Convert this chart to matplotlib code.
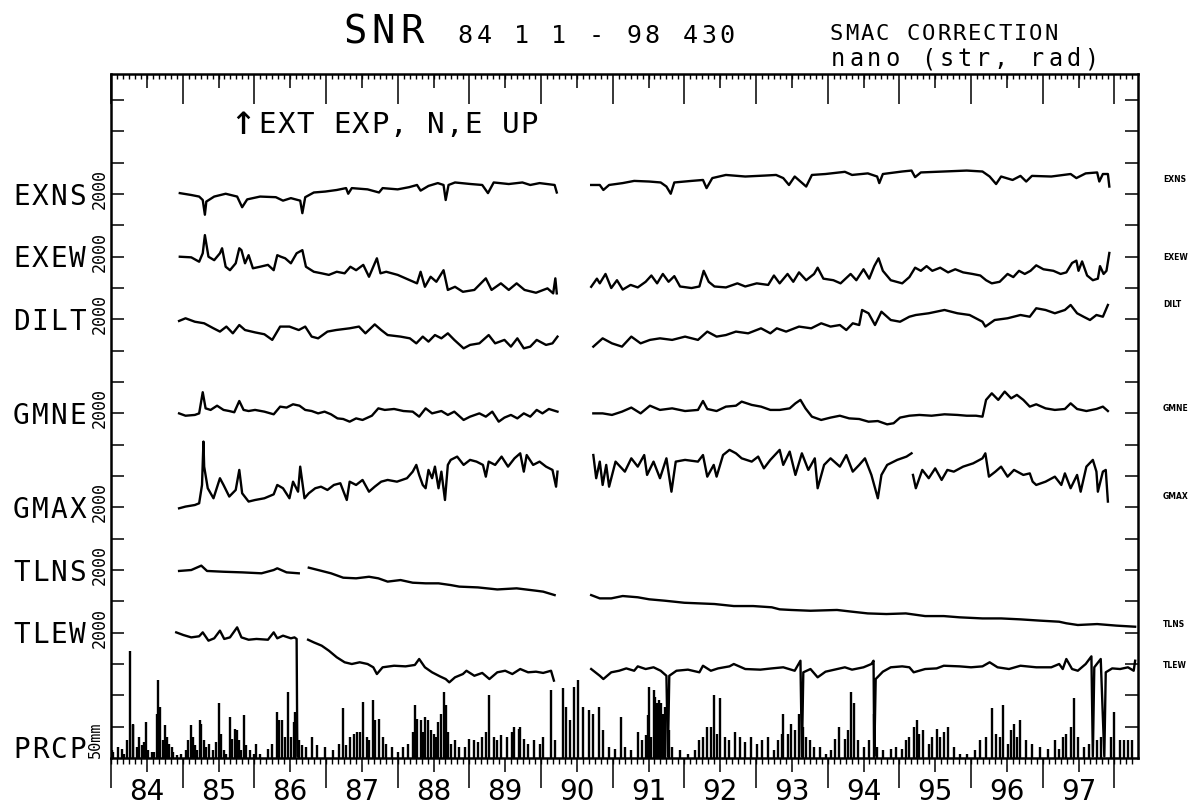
import numpy as np
import matplotlib
matplotlib.use("Agg")
import matplotlib.pyplot as plt
from matplotlib.ticker import FixedLocator, MultipleLocator
from matplotlib.transforms import blended_transform_factory

# ---------------------------------------------------------------------------
# Observation records (time in decimal years, strain/tilt in nano units,
# precipitation in mm/day).  None marks a break in the record.
# ---------------------------------------------------------------------------
exns_t = [1984.96, 1985.12, 1985.23, 1985.28, 1985.31, 1985.33, 1985.44, 1985.60, 1985.76, 1985.83,
          1985.90, 1986.08, 1986.30, 1986.40, 1986.51, 1986.64, 1986.67, 1986.71, 1986.83, 1986.99,
          1987.15, 1987.28, 1987.31, 1987.36, 1987.58, 1987.74, 1987.79, 1988.00, 1988.16, 1988.27,
          1988.32, 1988.43, 1988.56, 1988.64, 1988.67, 1988.71, 1988.80, 1989.02, 1989.18, 1989.26,
          1989.34, 1989.55, 1989.74, 1989.85, 1989.98, 1990.19, 1990.22, 1990.45,
          1990.70, 1990.82, 1990.87, 1990.95, 1991.14, 1991.30, 1991.51, 1991.67, 1991.75, 1991.81,
          1991.86, 1992.10, 1992.26, 1992.31, 1992.39, 1992.58, 1992.85, 1993.12, 1993.28, 1993.38,
          1993.46, 1993.54, 1993.62, 1993.70, 1993.78, 1993.97, 1994.24, 1994.34, 1994.56, 1994.69,
          1994.72, 1994.77, 1995.04, 1995.17, 1995.22, 1995.30, 1995.62, 1995.94, 1996.16, 1996.26,
          1996.35, 1996.42, 1996.58, 1996.69, 1996.77, 1996.85, 1997.12, 1997.39, 1997.47, 1997.60,
          1997.76, 1997.79, 1997.84, 1997.91, 1997.93]
exns_v = [60, -60, -160, -380, -1320, -480, -160, 20, -160, -840,
          -340, -160, -200, -420, -260, -420, -1220, -200, 100, 160,
          260, 380, 20, 380, 300, 100, 380, 300, 440, 580,
          220, 520, 700, 580, -380, 580, 740, 640, 580, 60,
          740, 640, 740, 580, 700, 580, 100, None,
          580, 580, 260, 580, 700, 840, 800, 740, 480, 20,
          740, 840, 900, 380, 1020, 1220, 1120, 1180, 1220, 1020,
          580, 1120, 800, 480, 1220, 1280, 1420, 1220, 1320, 1120,
          700, 1280, 1440, 1500, 1080, 1380, 1440, 1500, 1440, 1120,
          640, 1120, 900, 1160, 800, 1160, 1120, 1280, 1020, 1320,
          1380, 800, 1280, 1280, 480]

exew_t = [1984.96, 1985.12, 1985.23, 1985.28, 1985.31, 1985.36, 1985.44, 1985.52, 1985.55, 1985.60,
          1985.66, 1985.74, 1985.79, 1985.82, 1985.87, 1985.92, 1985.98, 1986.08, 1986.19, 1986.27,
          1986.32, 1986.37, 1986.43, 1986.51, 1986.59, 1986.67, 1986.72, 1986.83, 1986.94, 1987.04,
          1987.15, 1987.26, 1987.34, 1987.42, 1987.52, 1987.60, 1987.71, 1987.76, 1987.84, 1988.00,
          1988.16, 1988.27, 1988.32, 1988.38, 1988.46, 1988.54, 1988.64, 1988.70, 1988.80, 1988.91,
          1989.07, 1989.23, 1989.31, 1989.44, 1989.55, 1989.66, 1989.77, 1989.93, 1990.09, 1990.17,
          1990.20, 1990.22, 1990.45,
          1990.70, 1990.78, 1990.82, 1990.90, 1990.98, 1991.06, 1991.14, 1991.25, 1991.35, 1991.46,
          1991.54, 1991.62, 1991.70, 1991.78, 1991.86, 1991.94, 1992.10, 1992.21, 1992.27, 1992.34,
          1992.42, 1992.58, 1992.74, 1992.85, 1993.01, 1993.17, 1993.25, 1993.33, 1993.44, 1993.52,
          1993.60, 1993.70, 1993.81, 1993.86, 1993.94, 1994.08, 1994.18, 1994.32, 1994.40, 1994.50,
          1994.58, 1994.65, 1994.71, 1994.77, 1994.88, 1995.04, 1995.14, 1995.22, 1995.30, 1995.38,
          1995.46, 1995.57, 1995.68, 1995.78, 1995.89, 1996.02, 1996.13, 1996.21, 1996.29, 1996.40,
          1996.51, 1996.59, 1996.67, 1996.75, 1996.83, 1996.91, 1997.01, 1997.15, 1997.25, 1997.33,
          1997.41, 1997.47, 1997.50, 1997.55, 1997.62, 1997.70, 1997.77, 1997.80, 1997.85, 1997.89,
          1997.93]
exew_v = [0, -40, -320, 220, 1380, 0, -220, 220, 540, -640,
          -860, -420, 540, 420, -420, 100, -740, -640, -520, -860,
          100, 0, -100, -420, 220, 420, -640, -960, -1060, -1160,
          -960, -1060, -640, -860, -520, -1280, -100, -1060, -960, -1160,
          -1480, -1700, -960, -1920, -1280, -1600, -860, -2120, -1920, -2240,
          -2120, -1380, -2120, -1700, -2120, -1700, -2120, -2300, -2020, -2340,
          -1380, -2340, None,
          -1920, -1400, -1700, -1100, -2000, -1500, -2100, -1800, -1960, -1600,
          -1200, -1700, -1100, -1600, -1240, -1900, -2000, -1900, -900, -1600,
          -1900, -1960, -1700, -1900, -1700, -1800, -1200, -1700, -1100, -1600,
          -1000, -1500, -1100, -700, -1400, -1500, -1700, -1100, -1500, -800,
          -1400, -600, -100, -900, -1500, -1700, -1300, -700, -900, -600,
          -900, -700, -1000, -800, -1000, -1100, -1200, -1500, -1700, -1600,
          -1100, -1300, -900, -1100, -900, -550, -800, -900, -1100, -1000,
          -400, -250, -900, -300, -1200, -1500, -1400, -600, -1100, -900,
          240]

dilt_t = [1984.95, 1985.04, 1985.17, 1985.30, 1985.43, 1985.52, 1985.61, 1985.70, 1985.79, 1985.87,
          1986.01, 1986.14, 1986.25, 1986.36, 1986.49, 1986.62, 1986.71, 1986.80, 1986.89, 1987.02,
          1987.14, 1987.33, 1987.46, 1987.55, 1987.68, 1987.77, 1987.86, 1988.04, 1988.17, 1988.26,
          1988.35, 1988.43, 1988.52, 1988.61, 1988.70, 1988.79, 1988.92, 1989.01, 1989.14, 1989.27,
          1989.36, 1989.49, 1989.58, 1989.67, 1989.76, 1989.85, 1989.94, 1990.07, 1990.16, 1990.23,
          1990.45,
          1990.73, 1990.86, 1990.99, 1991.13, 1991.26, 1991.39, 1991.52, 1991.66, 1991.83, 1992.01,
          1992.19, 1992.32, 1992.45, 1992.58, 1992.72, 1992.89, 1993.07, 1993.20, 1993.29, 1993.42,
          1993.60, 1993.77, 1993.91, 1994.04, 1994.17, 1994.26, 1994.35, 1994.44, 1994.48, 1994.57,
          1994.66, 1994.75, 1994.88, 1995.01, 1995.14, 1995.23, 1995.41, 1995.63, 1995.81, 1995.98,
          1996.16, 1996.20, 1996.33, 1996.51, 1996.69, 1996.82, 1996.91, 1997.04, 1997.17, 1997.31,
          1997.39, 1997.48, 1997.57, 1997.66, 1997.75, 1997.84, 1997.91]
dilt_v = [-100, 70, -150, -250, -570, -780, -460, -890, -360, -680,
          -830, -950, -1310, -460, -460, -680, -460, -1100, -1210, -780,
          -680, -570, -460, -890, -320, -680, -1000, -1100, -1210, -1530,
          -1100, -1420, -1000, -1210, -890, -1310, -1850, -1630, -1530, -1000,
          -1530, -1310, -1740, -1210, -1850, -1740, -1310, -1630, -1530, -1100,
          None,
          -1740, -1210, -1530, -1740, -1100, -1530, -1310, -1210, -1310, -1100,
          -1310, -780, -1100, -1000, -780, -890, -570, -890, -570, -780,
          -460, -570, -250, -460, -360, -680, -250, -360, 600, 390,
          -360, 490, -40, -150, 170, 280, 390, 600, 390, 280,
          -150, -460, -40, 70, 280, 170, 710, 600, 390, 600,
          920, 390, 170, -40, 280, 170, 920]

gmne_t = [1984.95, 1985.04, 1985.17, 1985.23, 1985.28, 1985.32, 1985.39, 1985.48, 1985.57, 1985.65,
          1985.72, 1985.79, 1985.85, 1985.92, 1986.01, 1986.14, 1986.27, 1986.36, 1986.45, 1986.54,
          1986.63, 1986.71, 1986.80, 1986.89, 1986.98, 1987.07, 1987.16, 1987.24, 1987.33, 1987.42,
          1987.51, 1987.64, 1987.73, 1987.82, 1987.95, 1988.08, 1988.21, 1988.30, 1988.39, 1988.48,
          1988.61, 1988.70, 1988.79, 1988.92, 1989.01, 1989.14, 1989.23, 1989.32, 1989.41, 1989.49,
          1989.58, 1989.67, 1989.76, 1989.85, 1989.94, 1990.02, 1990.11, 1990.23, 1990.45,
          1990.73, 1990.86, 1990.99, 1991.13, 1991.26, 1991.39, 1991.52, 1991.66, 1991.83, 1992.01,
          1992.19, 1992.26, 1992.32, 1992.45, 1992.58, 1992.72, 1992.80, 1992.94, 1993.07, 1993.20,
          1993.33, 1993.47, 1993.55, 1993.62, 1993.69, 1993.78, 1993.91, 1994.04, 1994.17, 1994.30,
          1994.44, 1994.57, 1994.70, 1994.83, 1994.92, 1995.01, 1995.14, 1995.28, 1995.45, 1995.63,
          1995.81, 1995.94, 1996.07, 1996.16, 1996.21, 1996.29, 1996.38, 1996.47, 1996.56, 1996.64,
          1996.73, 1996.82, 1996.91, 1997.04, 1997.17, 1997.31, 1997.39, 1997.48, 1997.61, 1997.75,
          1997.84, 1997.91]
gmne_v = [0, -150, -100, 0, 1350, 320, 220, 490, 220, 150,
          70, 790, 220, 150, 220, 110, -60, 430, 370, 580,
          490, 220, 150, 0, 110, -60, -320, -360, -530, -320,
          -420, -150, 320, 220, 280, 150, 110, -210, 320, 0,
          150, -100, 110, -420, -210, 0, -210, 110, -530, -270,
          -100, -320, 0, -210, 220, 0, 280, 110, None,
          0, 0, -100, 110, 370, 0, 490, 220, 320, 150,
          220, 790, 280, 150, 430, 490, 750, 540, 430, 220,
          220, 320, 640, 860, 320, -210, -420, -270, -150, -320,
          -360, -530, -490, -700, -630, -270, -150, -100, -150, -60,
          -100, -150, -150, -210, 860, 1280, 860, 1390, 960, 1180,
          860, 430, 580, 320, 220, 280, 640, 280, 150, 280,
          430, 150]

gmax_t = [1984.95, 1985.04, 1985.17, 1985.23, 1985.27, 1985.29, 1985.30, 1985.35, 1985.43, 1985.52,
          1985.57, 1985.65, 1985.74, 1985.79, 1985.83, 1985.92, 1986.01, 1986.14, 1986.27, 1986.32,
          1986.40, 1986.49, 1986.54, 1986.61, 1986.64, 1986.70, 1986.76, 1986.85, 1986.93, 1987.02,
          1987.11, 1987.20, 1987.29, 1987.33, 1987.42, 1987.51, 1987.60, 1987.68, 1987.77, 1987.86,
          1987.99, 1988.13, 1988.21, 1988.26, 1988.30, 1988.35, 1988.39, 1988.43, 1988.48, 1988.52,
          1988.57, 1988.61, 1988.66, 1988.70, 1988.74, 1988.83, 1988.92, 1989.01, 1989.10, 1989.19,
          1989.23, 1989.27, 1989.36, 1989.45, 1989.54, 1989.63, 1989.71, 1989.76, 1989.80, 1989.89,
          1989.98, 1990.07, 1990.16, 1990.21, 1990.23, 1990.45,
          1990.73, 1990.77, 1990.82, 1990.86, 1990.91, 1990.95, 1991.04, 1991.17, 1991.26, 1991.35,
          1991.44, 1991.48, 1991.57, 1991.66, 1991.75, 1991.82, 1991.88, 1992.01, 1992.19, 1992.26,
          1992.32, 1992.41, 1992.45, 1992.54, 1992.63, 1992.72, 1992.80, 1992.94, 1993.03, 1993.11,
          1993.20, 1993.33, 1993.38, 1993.47, 1993.55, 1993.64, 1993.73, 1993.82, 1993.86, 1993.95,
          1994.04, 1994.17, 1994.26, 1994.35, 1994.44, 1994.52, 1994.61, 1994.70, 1994.75, 1994.83,
          1994.97, 1995.10, 1995.17, 1995.18,
          1995.19, 1995.23, 1995.32, 1995.41, 1995.50, 1995.59, 1995.67, 1995.76, 1995.89, 1996.03,
          1996.16, 1996.20, 1996.25, 1996.34, 1996.42, 1996.51, 1996.60, 1996.73, 1996.82, 1996.86,
          1996.91, 1997.04, 1997.17, 1997.26, 1997.31, 1997.39, 1997.48, 1997.53, 1997.61, 1997.70,
          1997.75, 1997.77, 1997.84, 1997.88, 1997.91]
gmax_v = [-60, 50, 150, 260, 1430, 4200, 2600, 1220, 580, 1860,
          1430, 690, 1110, 2390, 900, 370, 470, 580, 830, 1430,
          1220, 580, 1640, 1000, 2600, 580, 900, 1220, 1320, 1110,
          1430, 1540, 470, 1640, 1430, 1750, 1000, 1320, 1640, 1750,
          1640, 1860, 2280, 2710, 2070, 1430, 1220, 2390, 1860, 2600,
          1220, 2280, 470, 2710, 3030, 3240, 2710, 3030, 2920, 2710,
          1960, 2920, 2710, 3240, 2600, 3130, 3450, 2280, 3340, 2710,
          2920, 2600, 2390, 1320, 2280, None,
          3340, 1860, 2920, 1430, 2710, 1320, 2920, 2280, 3130, 2600,
          3340, 2070, 2920, 1860, 3130, 1000, 2920, 3030, 2920, 3340,
          1960, 2710, 1960, 3340, 3670, 3450, 3130, 2920, 3240, 2490,
          3030, 3670, 2710, 3560, 2070, 3450, 2390, 3130, 1220, 2710,
          3130, 2600, 3340, 2280, 2710, 3130, 2070, 580, 2070, 2710,
          3030, 3240, 3450, None,
          2070, 1220, 2390, 1860, 2490, 1750, 2390, 2280, 2600, 2810,
          3130, 3450, 1960, 2280, 2600, 1960, 2390, 2070, 2170, 1640,
          1430, 1640, 1960, 1430, 2170, 1220, 2070, 1000, 2600, 3030,
          2280, 1000, 2280, 2390, 370]

tlns_t = [1984.95, 1985.12, 1985.26, 1985.34, 1985.57, 1985.83, 1986.10, 1986.27, 1986.32, 1986.45,
          1986.62, 1986.69,
          1986.76, 1986.89, 1987.07, 1987.24, 1987.42, 1987.60, 1987.73, 1987.86, 1988.04, 1988.21,
          1988.39, 1988.57, 1988.74, 1988.86, 1989.12, 1989.39, 1989.66, 1989.93, 1990.03, 1990.19,
          1990.45,
          1990.70, 1990.82, 1990.98, 1991.14, 1991.35, 1991.51, 1991.73, 1992.00, 1992.21, 1992.42,
          1992.69, 1992.96, 1993.22, 1993.33, 1993.49, 1993.76, 1994.13, 1994.34, 1994.56, 1994.82,
          1995.09, 1995.36, 1995.62, 1995.84, 1996.16, 1996.42, 1996.69, 1996.96, 1997.23, 1997.33,
          1997.49, 1997.76, 1998.03, 1998.29]
tlns_v = [-60, 0, 280, -60, -110, -150, -210, 0, 110, -150,
          -210, None,
          150, 0, -210, -490, -530, -430, -530, -740, -640, -810,
          -850, -850, -960, -1060, -1110, -1240, -1170, -1320, -1380, -1600,
          None,
          -1600, -1810, -1810, -1660, -1740, -1870, -1960, -2090, -2130, -2170,
          -2300, -2300, -2380, -2510, -2550, -2600, -2550, -2660, -2770, -2810,
          -2770, -2940, -2940, -3020, -3090, -3090, -3150, -3230, -3300, -3400,
          -3510, -3450, -3550, -3620]

tlew_t = [1984.91, 1985.01, 1985.12, 1985.23, 1985.28, 1985.36, 1985.44, 1985.52, 1985.58, 1985.66,
          1985.76, 1985.82, 1985.92, 1986.03, 1986.19, 1986.27, 1986.32, 1986.40, 1986.51, 1986.56,
          1986.59, 1986.60, 1986.62, 1986.68,
          1986.75, 1986.83, 1986.94, 1987.04, 1987.15, 1987.26, 1987.36, 1987.47, 1987.58, 1987.66,
          1987.71, 1987.79, 1987.95, 1988.11, 1988.24, 1988.30, 1988.38, 1988.48, 1988.59, 1988.67,
          1988.72, 1988.80, 1988.91, 1988.96, 1989.07, 1989.18, 1989.28, 1989.39, 1989.50, 1989.60,
          1989.71, 1989.82, 1989.93, 1990.03, 1990.14, 1990.18, 1990.45,
          1990.70, 1990.82, 1990.87, 1990.98, 1991.09, 1991.19, 1991.30, 1991.35, 1991.46, 1991.57,
          1991.67, 1991.75, 1991.77, 1991.79, 1991.89, 1992.05, 1992.21, 1992.26, 1992.37, 1992.47,
          1992.63, 1992.69, 1992.85, 1993.06, 1993.22, 1993.38, 1993.54, 1993.62, 1993.64, 1993.66,
          1993.76, 1993.86, 1993.97, 1994.13, 1994.24, 1994.34, 1994.50, 1994.61, 1994.64, 1994.65,
          1994.67, 1994.77, 1994.88, 1995.04, 1995.14, 1995.20, 1995.36, 1995.52, 1995.62, 1995.84,
          1996.00, 1996.16, 1996.26, 1996.37, 1996.53, 1996.69, 1996.91, 1997.12, 1997.23, 1997.28,
          1997.33, 1997.41, 1997.49, 1997.60, 1997.68, 1997.70, 1997.72, 1997.81, 1997.86, 1997.88,
          1997.97, 1998.08, 1998.19, 1998.27, 1998.29]
tlew_v = [20, -150, -300, -230, 20, -510, -360, 130, -400, -300,
          340, -300, -450, -400, -450, 20, -360, -190, -360, -300,
          -400, -7900, -7900, None,
          -450, -620, -830, -1150, -1570, -1890, -2000, -1890, -2000, -2210,
          -2640, -2210, -2110, -2150, -2060, -1680, -2210, -2530, -2790, -2960,
          -3170, -2850, -2640, -2430, -2750, -2570, -2960, -2530, -2430, -2640,
          -2320, -2530, -2490, -2570, -2430, -3060, None,
          -2320, -2750, -2960, -2530, -2430, -2280, -2430, -2150, -2320, -2210,
          -2430, -2750, -7900, -2750, -2430, -2360, -2530, -2110, -2430, -2280,
          -2150, -2000, -2320, -2360, -2280, -2210, -2430, -1790, -7900, -2530,
          -2320, -2850, -2490, -2320, -2210, -2360, -2210, -2000, -1790, -7900,
          -2960, -2490, -2210, -2150, -2210, -2530, -2320, -2280, -2110, -2150,
          -2210, -2150, -1890, -2210, -2320, -2110, -2210, -2210, -2000, -2320,
          -1680, -2320, -2430, -2000, -1510, -7900, -2210, -1680, -7900, -2530,
          -2280, -2320, -2210, -2430, -1790]

prcp_t = [1984.01, 1984.03, 1984.10, 1984.15, 1984.18, 1984.22, 1984.27, 1984.30, 1984.31, 1984.36,
          1984.39, 1984.43, 1984.46, 1984.49, 1984.52, 1984.57, 1984.60, 1984.64, 1984.66, 1984.68,
          1984.72, 1984.75, 1984.78, 1984.81, 1984.85, 1984.87, 1984.92, 1984.98, 1985.05, 1985.08,
          1985.11, 1985.14, 1985.17, 1985.20, 1985.24, 1985.26, 1985.30, 1985.33, 1985.37, 1985.43,
          1985.47, 1985.51, 1985.53, 1985.58, 1985.61, 1985.66, 1985.69, 1985.73, 1985.76, 1985.79,
          1985.82, 1985.86, 1985.89, 1985.94, 1985.99, 1986.03, 1986.08, 1986.19, 1986.24, 1986.31,
          1986.35, 1986.39, 1986.43, 1986.47, 1986.51, 1986.55, 1986.57, 1986.62, 1986.67, 1986.72,
          1986.80, 1986.88, 1986.99, 1987.10, 1987.18, 1987.24, 1987.28, 1987.34, 1987.39, 1987.43,
          1987.47, 1987.52, 1987.57, 1987.60, 1987.66, 1987.68, 1987.74, 1987.79, 1987.84, 1987.92,
          1988.00, 1988.08, 1988.14, 1988.21, 1988.24, 1988.27, 1988.32, 1988.35, 1988.38, 1988.42,
          1988.46, 1988.51, 1988.54, 1988.56, 1988.60, 1988.64, 1988.67, 1988.70, 1988.75, 1988.80,
          1988.86, 1988.94, 1988.99, 1989.07, 1989.12, 1989.18, 1989.23, 1989.27, 1989.34, 1989.39,
          1989.44, 1989.52, 1989.60, 1989.63, 1989.69, 1989.71, 1989.76, 1989.82, 1989.90, 1989.98,
          1990.03, 1990.14, 1990.19, 1990.30, 1990.35, 1990.41, 1990.46, 1990.51, 1990.59, 1990.67,
          1990.73, 1990.81, 1990.87, 1990.95, 1991.03, 1991.11, 1991.17, 1991.25, 1991.35, 1991.41,
          1991.46, 1991.49, 1991.51, 1991.54, 1991.57, 1991.59, 1991.62, 1991.65, 1991.67, 1991.70,
          1991.73, 1991.78, 1991.83, 1991.94, 1992.05, 1992.15, 1992.21, 1992.26, 1992.31, 1992.37,
          1992.41, 1992.45, 1992.50, 1992.57, 1992.63, 1992.71, 1992.77, 1992.85, 1992.93, 1993.01,
          1993.09, 1993.17, 1993.25, 1993.30, 1993.36, 1993.38, 1993.44, 1993.49, 1993.54, 1993.60,
          1993.65, 1993.70, 1993.76, 1993.81, 1993.89, 1993.97, 1994.05, 1994.10, 1994.16, 1994.24,
          1994.29, 1994.33, 1994.37, 1994.42, 1994.50, 1994.58, 1994.64, 1994.69, 1994.77, 1994.88,
          1994.96, 1995.04, 1995.09, 1995.14, 1995.20, 1995.24, 1995.28, 1995.33, 1995.41, 1995.46,
          1995.52, 1995.57, 1995.62, 1995.68, 1995.76, 1995.84, 1995.94, 1996.05, 1996.13, 1996.21,
          1996.29, 1996.35, 1996.40, 1996.45, 1996.51, 1996.56, 1996.60, 1996.64, 1996.69, 1996.77,
          1996.85, 1996.96, 1997.07, 1997.17, 1997.23, 1997.28, 1997.33, 1997.39, 1997.44, 1997.49,
          1997.57, 1997.65, 1997.76, 1997.81, 1997.95, 1998.00, 1998.08, 1998.13, 1998.19, 1998.24]
prcp_mm = [13, 10, 18, 15, 7, 29, 170, 55, 53, 18,
           34, 21, 26, 58, 13, 10, 10, 71, 125, 82,
           29, 53, 34, 23, 18, 10, 5, 7, 13, 29,
           53, 34, 21, 13, 61, 55, 29, 18, 23, 13,
           26, 87, 39, 13, 7, 66, 31, 47, 45, 29,
           13, 69, 21, 13, 7, 23, 7, 15, 23, 74,
           61, 61, 34, 106, 34, 58, 74, 29, 21, 18,
           34, 21, 18, 13, 23, 79, 21, 34, 39, 42,
           42, 90, 34, 29, 93, 61, 63, 34, 23, 18,
           10, 18, 23, 42, 85, 63, 61, 42, 66, 61,
           45, 39, 34, 58, 71, 106, 85, 42, 23, 29,
           18, 18, 31, 29, 26, 34, 42, 101, 34, 29,
           37, 34, 42, 50, 47, 50, 31, 23, 29, 23,
           34, 109, 29, 111, 82, 61, 114, 125, 82, 77,
           71, 82, 45, 18, 15, 66, 18, 13, 42, 29,
           37, 69, 114, 34, 109, 98, 87, 93, 87, 71,
           82, 45, 18, 13, 7, 13, 29, 34, 50, 50,
           101, 39, 95, 34, 29, 42, 34, 26, 34, 23,
           29, 34, 13, 29, 39, 71, 39, 55, 45, 71,
           50, 34, 29, 18, 18, 7, 13, 31, 50, 31,
           45, 106, 87, 29, 18, 29, 71, 18, 13, 15,
           18, 15, 29, 34, 50, 61, 39, 45, 23, 34,
           47, 34, 42, 50, 18, 7, 7, 13, 29, 34,
           79, 39, 34, 85, 23, 45, 55, 34, 61, 29,
           23, 18, 15, 29, 15, 34, 39, 50, 95, 34,
           18, 23, 29, 34, 34, 74, 29, 29, 29, 29]

# Channel table: label, record, baseline (scale divisions from the bottom axis),
# level of the right-hand tag (divisions)
channels = [
    ("EXNS", exns_t, exns_v, 18, 18.48),
    ("EXEW", exew_t, exew_v, 16, 15.99),
    ("DILT", dilt_t, dilt_v, 14, 14.46),
    ("GMNE", gmne_t, gmne_v, 11, 11.14),
    ("GMAX", gmax_t, gmax_v, 8, 8.36),
    ("TLNS", tlns_t, tlns_v, 6, 4.25),
    ("TLEW", tlew_t, tlew_v, 4, 2.94),
]
NANO_PER_DIV = 2000.0
MM_PER_DIV = 50.0
year_labels = ["84", "85", "86", "87", "88", "89", "90", "91", "92", "93", "94", "95", "96", "97"]

# ---------------------------------------------------------------------------
# Figure geometry (pixels)
# ---------------------------------------------------------------------------
W, H = 1197, 811
AX_L, AX_R, AX_T, AX_B = 111, 1138, 74, 758
DIV_PX = 31.33
YMAX = (AX_B - AX_T) / DIV_PX
X0, X1 = 1984.0, 1998.33
MONO = ['DejaVu Sans Mono', 'DejaVu Sans']

plt.rcParams['font.family'] = ['DejaVu Sans']
plt.rcParams['axes.linewidth'] = 1.8

fig = plt.figure(figsize=(W / 100, H / 100), dpi=100)
fig.patch.set_facecolor('white')
ax = fig.add_axes([AX_L / W, 1 - AX_B / H, (AX_R - AX_L) / W, (AX_B - AX_T) / H])
ax.set_xlim(X0, X1)
ax.set_ylim(0, YMAX)

# strain / tilt traces
for name, t, v, base, tag in channels:
    tt = np.array(t, dtype=float)
    vv = np.array(v, dtype=float)
    ax.plot(tt, base + vv / NANO_PER_DIV, color='black', lw=1.7, solid_joinstyle='round')

# daily precipitation
pt = np.array(prcp_t, dtype=float)
pm = np.array(prcp_mm, dtype=float)
ax.vlines(pt, 0, pm / MM_PER_DIV, color='black', lw=1.7)

# ---------------------------------------------------------------------------
# Ticks
# ---------------------------------------------------------------------------
years = np.arange(1984, 1999)
mid_years = np.arange(1984.5, 1998, 1.0)

ax.yaxis.set_major_locator(FixedLocator(np.arange(1, 22)))
ax.tick_params(axis='y', which='major', direction='in', left=True, right=True,
               length=9.5, width=1.1, labelleft=False, labelright=False)

ax.xaxis.set_major_locator(FixedLocator(mid_years))
ax.xaxis.set_minor_locator(MultipleLocator(1 / 12))
ax.tick_params(axis='x', which='major', direction='out', length=10, width=1.1,
               bottom=True, top=False, labelbottom=False)
ax.tick_params(axis='x', which='minor', direction='out', length=4.3, width=1.0,
               bottom=True, top=False)

bot_years = ax.secondary_xaxis('bottom')
bot_years.set_xticks(years)
bot_years.tick_params(direction='out', length=21.5, width=1.1, labelbottom=False)
bot_years.spines['bottom'].set_visible(False)

top_years = ax.secondary_xaxis('top')
top_years.set_xticks(years)
top_years.xaxis.set_minor_locator(MultipleLocator(1 / 12))
top_years.tick_params(which='major', direction='in', length=21.5, width=1.1, labeltop=False)
top_years.tick_params(which='minor', direction='in', length=3.6, width=1.0)
top_years.spines['top'].set_visible(False)

top_mid = ax.secondary_xaxis('top')
top_mid.set_xticks(mid_years)
top_mid.tick_params(direction='in', length=10, width=1.1, labeltop=False)
top_mid.spines['top'].set_visible(False)


# ---------------------------------------------------------------------------
# Lettering (fixed-pitch plotter style: one glyph per cell)
# ---------------------------------------------------------------------------
def lettering(x, baseline, s, pitch, size, **kw):
    for i, ch in enumerate(s):
        if ch.strip():
            fig.text((x + (i + 0.5) * pitch) / W, 1 - baseline / H, ch,
                     ha='center', va='baseline', fontsize=size, family=MONO, **kw)


def div_to_px(k):
    return AX_B - k * DIV_PX


lettering(341, 43, "SNR", 28.3, 28)
lettering(456, 43, "84 1 1 - 98 430", 18.7, 18)
lettering(829, 40, "SMAC CORRECTION", 15.3, 16)
lettering(829, 66, "nano (str, rad)", 18.1, 17)
lettering(237, 134, "\u2191", 12, 30)
lettering(258, 133, "EXT EXP, N,E UP", 18.7, 21)

for name, t, v, base, tag in channels:
    y = div_to_px(base)
    lettering(12, y + 10.5, name, 18.75, 20)
    fig.text(100 / W, 1 - (y - 5) / H, "2000", rotation=90, ha='center', va='center',
             fontsize=12, family=MONO)
    fig.text(1163 / W, 1 - div_to_px(tag) / H, name, ha='left', va='center',
             fontsize=5.5, fontweight='bold')

lettering(12, AX_B, "PRCP", 18.75, 20)
fig.text(95 / W, 1 - AX_B / H, "50mm", rotation=90, ha='center', va='bottom',
         fontsize=11, family=MONO)

xt = blended_transform_factory(ax.transData, fig.transFigure)
for lab, xm in zip(year_labels, mid_years):
    ax.text(xm, 1 - 800 / H, lab, transform=xt, ha='center', va='baseline', fontsize=20)

fig.savefig("out.png", dpi=100, facecolor='white')
